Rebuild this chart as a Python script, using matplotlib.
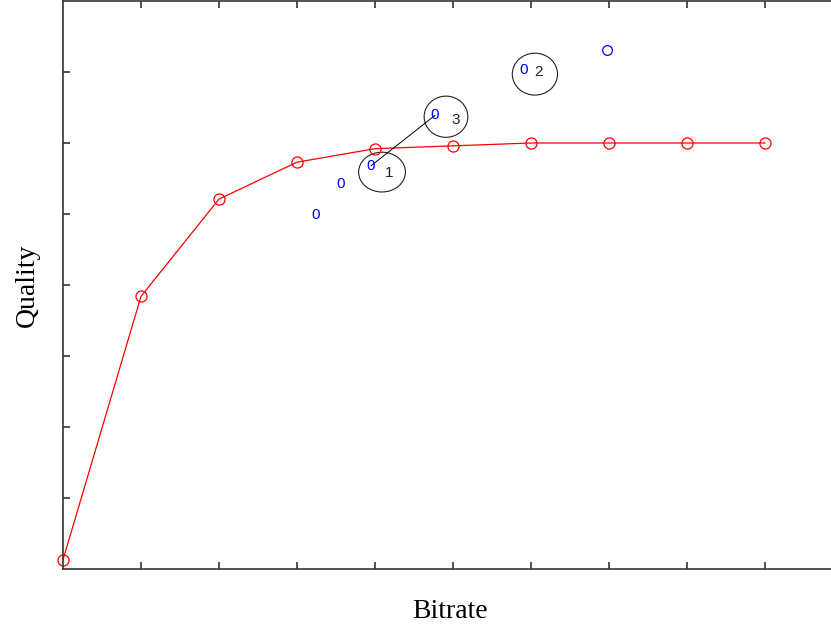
import matplotlib
matplotlib.use("Agg")
import matplotlib.pyplot as plt
from matplotlib.patches import Ellipse

# red curve: quality vs bitrate
curve_x = [0, 1, 2, 3, 4, 5, 6, 7, 8, 9]
curve_y = [0.13, 3.84, 5.21, 5.73, 5.92, 5.96, 6.0, 6.0, 6.0, 6.0]

# blue samples ("0" glyphs), last one drawn as a circle
zero_x = [3.24, 3.56, 3.95, 4.77, 5.91]
zero_y = [4.99, 5.42, 5.68, 6.39, 7.03]
circ_x = [6.97]
circ_y = [7.31]

# circled labels
label_text = ["1", "3", "2"]
label_x = [4.18, 5.03, 6.09]
label_y = [5.58, 6.32, 7.00]
ell_x = [4.09, 4.91, 6.05]
ell_y = [5.59, 6.37, 6.97]
ell_w = [0.60, 0.56, 0.58]
ell_h = [0.56, 0.58, 0.59]

fig = plt.figure(figsize=(8.31, 6.30), dpi=100)
ax = fig.add_axes([63 / 831, 61 / 630, 780 / 831, 568 / 630])

ax.plot(curve_x, curve_y, color="red", linewidth=0.9, marker="o",
        markersize=8, markerfacecolor="none", markeredgecolor="red",
        markeredgewidth=0.9, clip_on=False)

for x, y in zip(zero_x, zero_y):
    ax.text(x, y, "0", color="blue", fontsize=11, family="Liberation Sans",
            ha="center", va="center")
ax.plot(circ_x, circ_y, linestyle="none", marker="o", markersize=7,
        markerfacecolor="none", markeredgecolor="blue", markeredgewidth=0.9)

# link between sample 3 and sample 4
ax.plot(zero_x[2:4], zero_y[2:4], color="black", linewidth=0.7)

for t, x, y in zip(label_text, label_x, label_y):
    ax.text(x, y, t, color="#222222", fontsize=11, family="Liberation Sans",
            ha="center", va="center")
for x, y, w, h in zip(ell_x, ell_y, ell_w, ell_h):
    ax.add_patch(Ellipse((x, y), w, h, fill=False, edgecolor="#222222",
                         linewidth=0.8))

ax.set_xlim(0, 10)
ax.set_ylim(0, 8)
ax.set_xticks(range(1, 10))
ax.set_yticks(range(1, 8))
ax.tick_params(direction="in", length=5, width=1.1, color="#222222",
               top=True, right=True, labelbottom=False, labelleft=False)
for s in ax.spines.values():
    s.set_color("#333333")
    s.set_linewidth(1.2)

ax.set_xlabel("Bitrate", family="Liberation Serif", fontsize=20)
ax.set_ylabel("Quality", family="Liberation Serif", fontsize=20)
ax.xaxis.set_label_coords(0.496, -0.052)
ax.yaxis.set_label_coords(-0.03, 0.5)

fig.savefig("out.png", dpi=100)
